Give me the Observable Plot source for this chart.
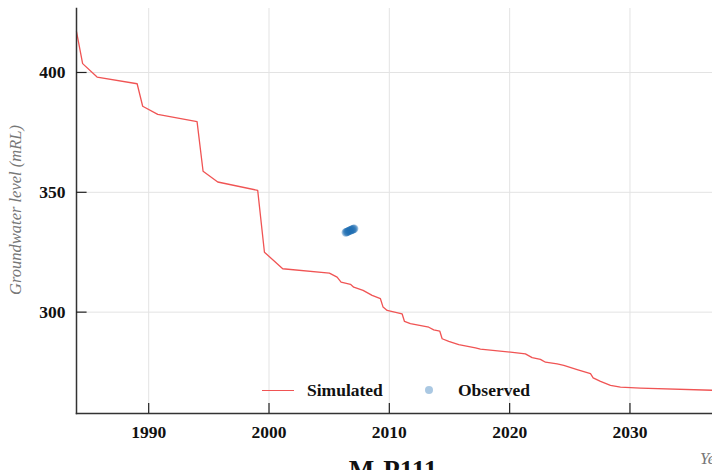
<!DOCTYPE html>
<html>
<head>
<meta charset="utf-8">
<script src="https://cdn.jsdelivr.net/npm/d3@7"></script>
<script src="https://cdn.jsdelivr.net/npm/@observablehq/plot@0.6"></script>
<style>
  html, body { margin: 0; padding: 0; background: #fff; overflow: hidden; }
  #wrap { position: relative; width: 712px; height: 470px; font-family: "Liberation Serif", serif; }
  .leg { position: absolute; font-weight: bold; font-size: 17.5px; color: #111; line-height: 1; }
</style>
</head>
<body>
<div id="wrap"></div>
<script>
// Simulated groundwater level (mRL)
const simYears = [1984.0, 1984.51, 1985.71, 1989.04, 1989.50, 1990.75, 1994.02, 1994.52, 1995.74, 1999.06, 1999.62, 2001.14, 2005.02, 2005.66, 2005.99, 2006.77, 2007.04, 2007.82, 2008.57, 2009.26, 2009.48, 2009.82, 2011.06, 2011.26, 2011.75, 2013.28, 2013.69, 2014.19, 2014.39, 2014.94, 2015.77, 2017.16, 2017.57, 2020.07, 2021.31, 2021.87, 2022.56, 2022.98, 2023.95, 2024.50, 2025.61, 2026.72, 2026.94, 2027.55, 2028.38, 2029.21, 2030.87, 2036.86];
const simValues = [417.0, 403.7, 398.1, 395.3, 385.9, 382.5, 379.5, 358.8, 354.3, 350.8, 325.0, 318.1, 316.3, 314.6, 312.5, 311.6, 310.4, 309.1, 307.0, 305.6, 302.1, 300.7, 299.3, 296.1, 295.2, 293.7, 292.6, 292.1, 288.9, 287.8, 286.4, 285.1, 284.6, 283.3, 282.6, 281.0, 280.3, 279.1, 278.4, 277.8, 276.0, 274.3, 272.6, 271.1, 269.4, 268.7, 268.3, 267.4];
// Observed
const obsYears = [2006.38, 2006.44, 2006.50, 2006.55, 2006.61, 2006.66, 2006.72, 2006.78, 2006.84, 2006.90, 2006.96, 2007.02, 2007.08];
const obsValues = [333.2, 333.4, 333.5, 333.6, 333.8, 333.9, 334.0, 334.2, 334.3, 334.4, 334.6, 334.7, 334.8];
const xTicks = [1990, 2000, 2010, 2020, 2030];
const yTicks = [300, 350, 400];
const title = "M-P111";
const yLabel = "Groundwater level (mRL)";
const xLabel = "Year";
const legendSim = "Simulated";
const legendObs = "Observed";

const sim = simYears.map((x, i) => ({x, y: simValues[i]}));
const obs = obsYears.map((x, i) => ({x, y: obsValues[i]}));

const RED = "#f05454";
const BLUE = "#1f6fb4";
const yMin = 257.7, yMax = 426.7, xMin = 1984.0, xMax = 2036.86;

const chart = Plot.plot({
  width: 712,
  height: 450,
  marginLeft: 76,
  marginRight: 0,
  marginTop: 8,
  marginBottom: 37,
  style: {fontFamily: "Liberation Serif, serif", background: "transparent"},
  x: {domain: [xMin, xMax]},
  y: {domain: [yMin, yMax]},
  marks: [
    Plot.gridX(xTicks, {stroke: "#e3e3e3", strokeOpacity: 1, strokeWidth: 1}),
    Plot.gridY(yTicks, {stroke: "#e3e3e3", strokeOpacity: 1, strokeWidth: 1}),
    Plot.line(sim, {x: "x", y: "y", stroke: RED, strokeWidth: 1.3}),
    Plot.dot(obs, {x: "x", y: "y", r: 4.2, fill: BLUE, fillOpacity: 0.38, stroke: "none"}),
    Plot.frame({anchor: "left", stroke: "#333", strokeWidth: 1.5}),
    Plot.frame({anchor: "bottom", stroke: "#333", strokeWidth: 1.5}),
    Plot.axisX({ticks: xTicks, tickFormat: d => String(d), tickSize: 0, tickPadding: 12, fontSize: 17.5, fontWeight: "bold", fill: "#111", label: null}),
    Plot.ruleX(xTicks, {y1: yMin, y2: yMin + 4.2, stroke: "#222", strokeWidth: 1.2}),
    Plot.axisY({ticks: yTicks, tickSize: 0, tickPadding: 11, fontSize: 17.5, fontWeight: "bold", fill: "#111", label: null}),
    Plot.ruleY(yTicks, {x1: xMin, x2: xMin + 0.88, stroke: "#222", strokeWidth: 1.2})
  ]
});

const wrap = document.getElementById("wrap");
chart.style.position = "absolute";
chart.style.left = "0px";
chart.style.top = "0px";
wrap.appendChild(chart);

// y label
const yl = document.createElement("div");
yl.textContent = yLabel;
Object.assign(yl.style, {position: "absolute", left: "16px", top: "210px", transform: "translate(-50%, -50%) rotate(-90deg)", fontStyle: "italic", fontSize: "16.5px", color: "#777", whiteSpace: "nowrap"});
wrap.appendChild(yl);

// x label (cut off at the right, as in the reference)
const xl = document.createElement("div");
xl.textContent = xLabel;
Object.assign(xl.style, {position: "absolute", left: "700px", top: "451px", fontStyle: "italic", fontSize: "16.5px", color: "#777", whiteSpace: "nowrap", lineHeight: "1"});
wrap.appendChild(xl);

// title (cut off at the bottom, as in the reference)
const tl = document.createElement("div");
tl.textContent = title;
Object.assign(tl.style, {position: "absolute", left: "393px", top: "457px", transform: "translateX(-50%)", fontWeight: "bold", fontSize: "27px", color: "#111", whiteSpace: "nowrap", lineHeight: "1"});
wrap.appendChild(tl);

// legend
const legLine = document.createElement("div");
Object.assign(legLine.style, {position: "absolute", left: "262px", top: "389.5px", width: "32px", height: "0", borderTop: "1.4px solid " + RED});
wrap.appendChild(legLine);
const lt1 = document.createElement("div");
lt1.className = "leg"; lt1.textContent = legendSim;
Object.assign(lt1.style, {left: "307px", top: "382px"});
wrap.appendChild(lt1);
const legDot = document.createElement("div");
Object.assign(legDot.style, {position: "absolute", left: "425px", top: "386px", width: "8.4px", height: "8.4px", borderRadius: "50%", background: BLUE, opacity: 0.38});
wrap.appendChild(legDot);
const lt2 = document.createElement("div");
lt2.className = "leg"; lt2.textContent = legendObs;
Object.assign(lt2.style, {left: "458px", top: "382px"});
wrap.appendChild(lt2);
</script>
</body>
</html>
